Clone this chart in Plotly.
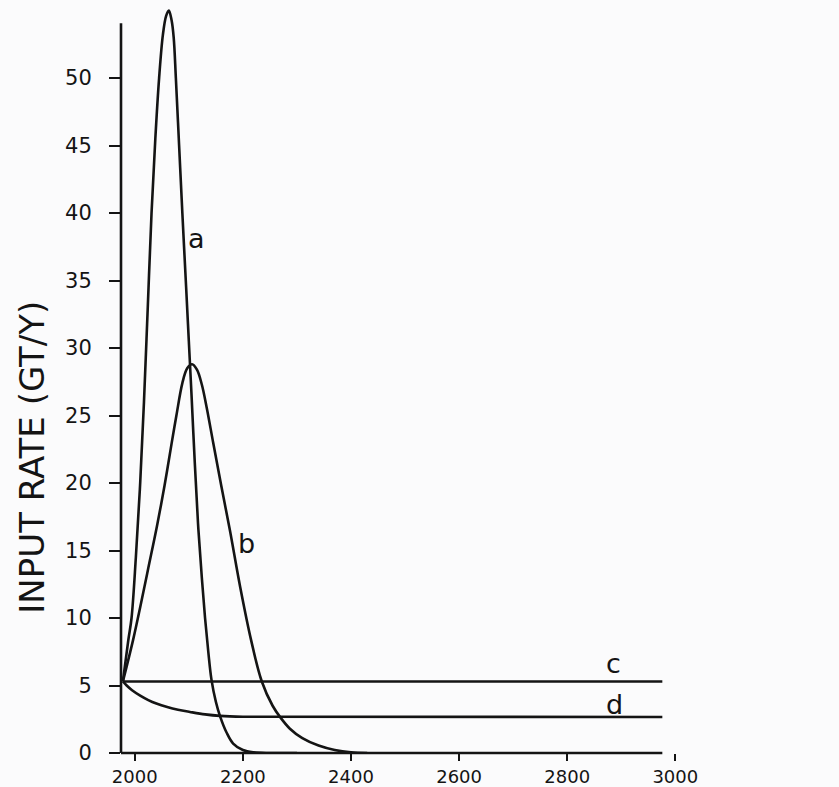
import plotly.graph_objects as go

# ---- data ----
a_years = [1978, 1988, 1994, 2002, 2010, 2017, 2024, 2031, 2038, 2045, 2052, 2058, 2063,
           2068, 2072, 2076, 2082, 2088, 2095, 2100, 2105, 2111, 2117, 2124, 2130, 2136,
           2142, 2150, 2158, 2170, 2182, 2200, 2220, 2250, 2300]
a_vals = [5.3, 8.35, 10, 14.5, 20, 26, 33, 40, 45.5, 50, 53.2, 54.6, 55,
          54.3, 53, 50, 45, 40, 34.5, 30.5, 26.5, 21.5, 17, 13, 10, 7.5,
          5.4, 3.8, 2.7, 1.5, 0.7, 0.22, 0.05, 0, 0]

b_years = [1978, 1997, 2010, 2025, 2041, 2055, 2068, 2077, 2088, 2097, 2106, 2115, 2124,
           2133, 2145, 2160, 2176, 2195, 2215, 2235, 2255, 2270, 2287, 2310, 2340, 2370,
           2400, 2430]
b_vals = [5.3, 8.4, 10.8, 13.7, 16.8, 19.8, 22.9, 25.0, 27.4, 28.5, 28.8, 28.4, 27.3,
          25.6, 23.0, 19.8, 16.5, 12.3, 8.4, 5.3, 3.5, 2.6, 1.8, 1.1, 0.55, 0.22,
          0.05, 0]

c_years = [1978, 2976]
c_vals = [5.3, 5.3]

d_years = [1978, 1985, 1995, 2010, 2025, 2040, 2060, 2080, 2102, 2130, 2158, 2200, 2976]
d_vals = [5.3, 5.0, 4.65, 4.25, 3.92, 3.66, 3.4, 3.2, 3.04, 2.86, 2.75, 2.69, 2.67]

x_ticks = [2000, 2200, 2400, 2600, 2800, 3000]
y_ticks = [0, 5, 10, 15, 20, 25, 30, 35, 40, 45, 50]

curve_labels = ["a", "b", "c", "d"]
label_years = [2115, 2206, 2885, 2887]
label_vals = [38.1, 15.5, 6.6, 3.6]

# ---- layout constants ----
X_RANGE = [1974.5, 3045.7]
Y_RANGE = [0, 55.41]
AXIS_END_YEAR = 2976
Y_AXIS_TOP = 54.05
INK = "#141414"
BG = "#fbfbfc"

fig = go.Figure()
for xs, ys in [(a_years, a_vals), (b_years, b_vals), (c_years, c_vals), (d_years, d_vals)]:
    fig.add_trace(go.Scatter(x=xs, y=ys, mode="lines",
                             line=dict(color=INK, width=2.6, shape="spline", smoothing=1.0),
                             showlegend=False, hoverinfo="skip"))

for t, xv, yv in zip(curve_labels, label_years, label_vals):
    fig.add_annotation(x=xv, y=yv, text=t, showarrow=False,
                       font=dict(family="DejaVu Sans", size=27, color=INK),
                       xanchor="center", yanchor="middle")

def xfrac(v):
    return (v - X_RANGE[0]) / (X_RANGE[1] - X_RANGE[0])

def yfrac(v):
    return (v - Y_RANGE[0]) / (Y_RANGE[1] - Y_RANGE[0])

# axis lines (shorter than the plot area, as in the reference)
fig.add_shape(type="line", xref="x domain", yref="y domain",
              x0=0, x1=xfrac(AXIS_END_YEAR), y0=0, y1=0,
              line=dict(color=INK, width=2.6))
fig.add_shape(type="line", xref="x domain", yref="y domain",
              x0=0, x1=0, y0=0, y1=yfrac(Y_AXIS_TOP),
              line=dict(color=INK, width=2.6))

fig.add_annotation(xref="paper", yref="paper", x=(31.7 - 121) / 579, y=(753 - 457) / 748,
                   text="INPUT RATE (GT/Y)", textangle=-90, showarrow=False,
                   xanchor="center", yanchor="middle",
                   font=dict(family="DejaVu Sans", size=34, color=INK))

fig.update_layout(
    width=839, height=787,
    margin=dict(l=121, r=139, t=5, b=34),
    paper_bgcolor=BG, plot_bgcolor=BG,
    xaxis=dict(range=X_RANGE, tickvals=x_ticks, ticktext=[str(v) for v in x_ticks],
               showgrid=False, zeroline=False, showline=False, automargin=False,
               ticks="outside", ticklen=7, tickwidth=2, tickcolor=INK,
               ticklabelstandoff=0,
               tickfont=dict(family="DejaVu Sans", size=18, color=INK)),
    yaxis=dict(range=Y_RANGE, tickvals=y_ticks, ticktext=[str(v) for v in y_ticks],
               showgrid=False, zeroline=False, showline=False, automargin=False,
               ticks="outside", ticklen=11, tickwidth=2, tickcolor=INK,
               ticklabelstandoff=13,
               tickfont=dict(family="DejaVu Sans", size=21, color=INK)),
)

fig.write_html("out.html")
